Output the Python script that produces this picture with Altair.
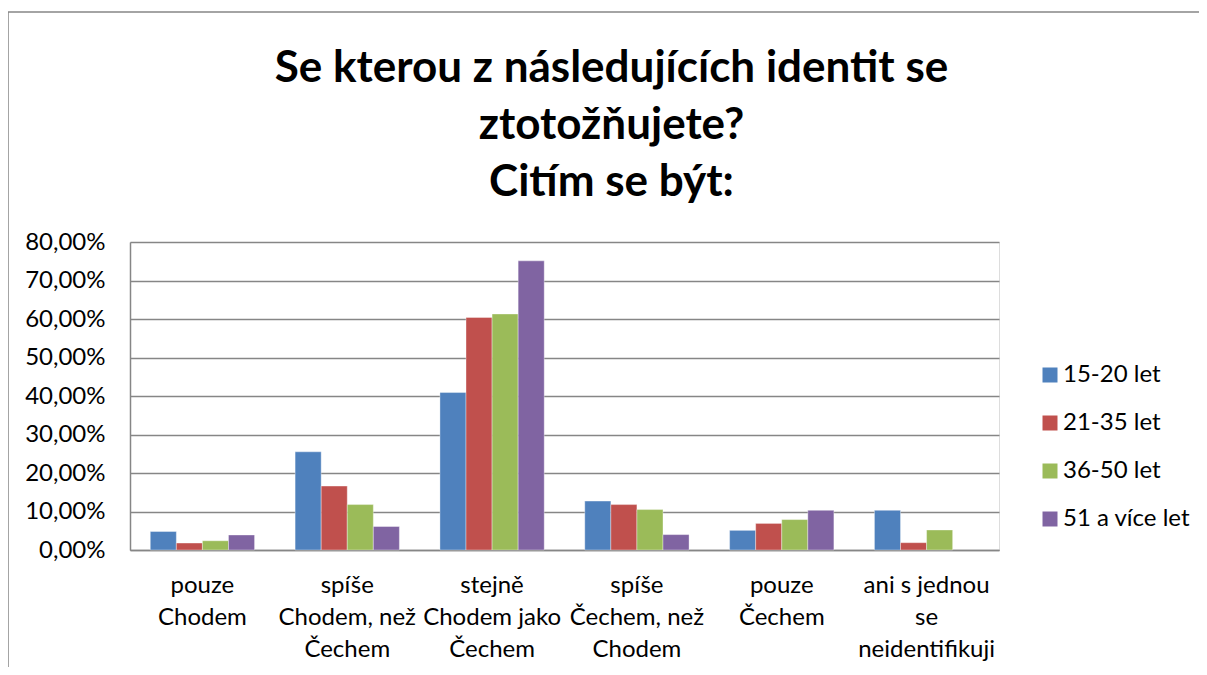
import altair as alt
import pandas as pd

categories = [
    "pouze|Chodem",
    "spíše|Chodem, než|Čechem",
    "stejně|Chodem jako|Čechem",
    "spíše|Čechem, než|Chodem",
    "pouze|Čechem",
    "ani s jednou|se|neidentifikuji",
]
series = ["15-20 let", "21-35 let", "36-50 let", "51 a více let"]
values_15_20 = [0.048, 0.255, 0.409, 0.127, 0.051, 0.103]
values_21_35 = [0.018, 0.166, 0.604, 0.118, 0.069, 0.019]
values_36_50 = [0.024, 0.118, 0.613, 0.105, 0.079, 0.052]
values_51 = [0.039, 0.061, 0.751, 0.040, 0.103, 0.0]
colors = ["#4F81BD", "#C0504D", "#9BBB59", "#8064A2"]
y_ticks = [0, 0.1, 0.2, 0.3, 0.4, 0.5, 0.6, 0.7, 0.8]

rows = []
for s, vals in zip(series, [values_15_20, values_21_35, values_36_50, values_51]):
    for c, v in zip(categories, vals):
        rows.append({"kategorie": c, "skupina": s, "hodnota": v})
df = pd.DataFrame(rows)

FONT = "Lato"

bars = alt.Chart(df).mark_bar(stroke="white", strokeWidth=0.6, strokeOpacity=0.6).encode(
    x=alt.X(
        "kategorie:N",
        sort=categories,
        title=None,
        scale=alt.Scale(domain=categories, paddingInner=0.28, paddingOuter=0.14),
        axis=alt.Axis(
            labelExpr="split(datum.label, '|')",
            labelAngle=0,
            labelFontSize=24,
            labelLineHeight=32,
            labelPadding=23,
            labelColor="black",
            labelFont=FONT,
            ticks=False,
            domainColor="#868686",
            domainWidth=1.5,
            grid=False,
            labelLimit=200,
        ),
    ),
    xOffset=alt.XOffset("skupina:N", sort=series,
                        scale=alt.Scale(domain=series, paddingInner=0, paddingOuter=0)),
    y=alt.Y(
        "hodnota:Q",
        title=None,
        scale=alt.Scale(domain=[0, 0.8], nice=False),
        axis=alt.Axis(
            values=y_ticks,
            labelExpr="replace(format(datum.value, '.2%'), '.', ',')",
            labelFontSize=24,
            labelColor="black",
            labelFont=FONT,
            labelPadding=25,
            ticks=False,
            domain=True,
            domainColor="#868686",
            domainWidth=1.5,
            grid=True,
            gridColor="#868686",
            gridWidth=1.5,
        ),
    ),
    color=alt.Color(
        "skupina:N",
        sort=series,
        scale=alt.Scale(domain=series, range=colors),
        legend=alt.Legend(
            title=None,
            orient="none",
            legendX=908,
            legendY=121,
            symbolType="square",
            symbolSize=225,
            symbolStrokeWidth=0,
            labelFontSize=24,
            labelFont=FONT,
            labelColor="black",
            rowPadding=24,
            labelOffset=1,
        ),
    ),
).transform_filter("datum.hodnota > 0")

frame = alt.Chart(alt.Data(values=[{}])).mark_rect(
    fill=None, stroke="#868686", strokeWidth=1.5
).encode(
    x=alt.value(-122), y=alt.value(-230), x2=alt.value(1300), y2=alt.value(700)
)

chart = alt.layer(frame, bars).properties(
    width=869,
    height=308,
    title=alt.TitleParams(
        text=["Se kterou z následujících identit se", "ztotožňujete?", "Citím se být:"],
        fontSize=44,
        font=FONT,
        fontWeight="bold",
        color="black",
        lineHeight=57,
        anchor="middle",
        frame="group",
        baseline="alphabetic",
        dx=47,
        dy=261,
        offset=32,
    ),
    autosize=alt.AutoSizeParams(type="none"),
    padding={"left": 122, "top": 234, "right": 200, "bottom": 117},
).configure_view(stroke=None).configure(background="white")

chart.save("out.html", embed_options={"renderer": "svg", "actions": False})
